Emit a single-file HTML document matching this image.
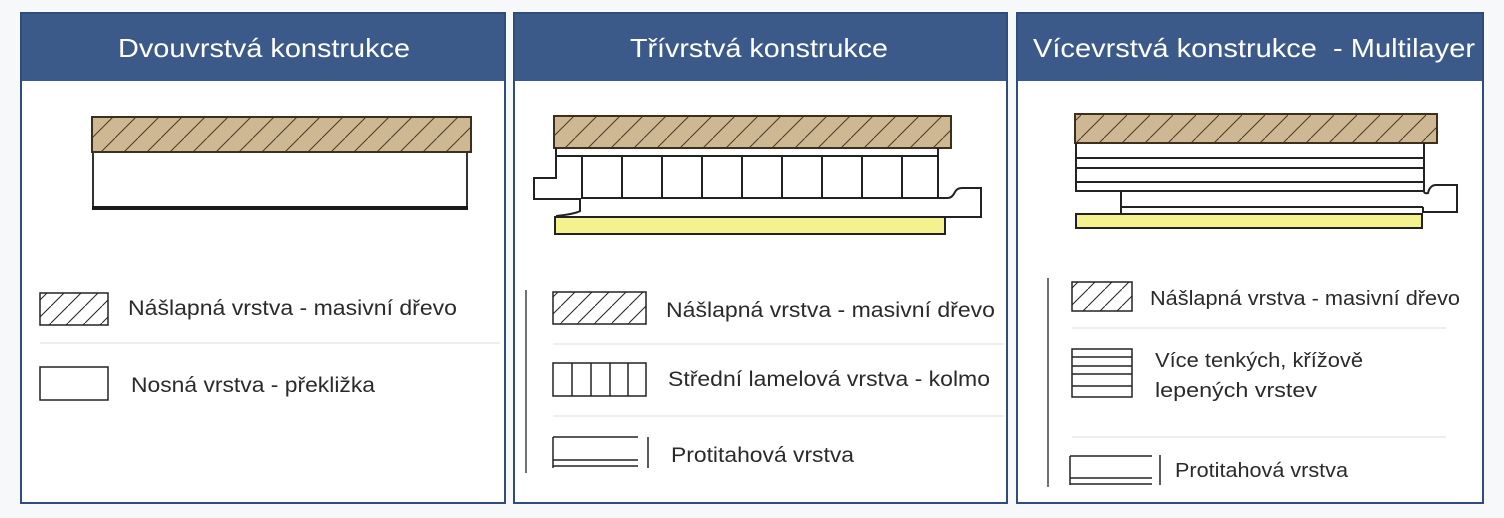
<!DOCTYPE html>
<html><head><meta charset="utf-8"><style>
html,body{margin:0;padding:0;background:#f7f8fa;}
svg{display:block;}
text{font-family:"Liberation Sans",Arial,sans-serif;}
</style></head><body>
<svg width="1504" height="518" viewBox="0 0 1504 518" xmlns="http://www.w3.org/2000/svg">
<defs>
<pattern id="hb" patternUnits="userSpaceOnUse" width="23" height="23">
<rect width="23" height="23" fill="#cdb893"/>
<line x1="-1" y1="24" x2="24" y2="-1" stroke="#4a3a22" stroke-width="1"/>
</pattern>
<pattern id="hl" patternUnits="userSpaceOnUse" width="17" height="17">
<rect width="17" height="17" fill="#fff"/>
<line x1="-1" y1="18" x2="18" y2="-1" stroke="#222" stroke-width="1"/>
</pattern>
</defs>
<rect width="1504" height="518" fill="#f7f8fa"/>

<g stroke="#2f4c7c" stroke-width="2" fill="#fff">
<rect x="21" y="13" width="484" height="490"/>
<rect x="514" y="13" width="493" height="490"/>
<rect x="1017" y="13" width="466" height="490"/>
</g>
<g fill="#3c5a89">
<rect x="22" y="14" width="482" height="67"/>
<rect x="515" y="14" width="491" height="67"/>
<rect x="1018" y="14" width="464" height="67"/>
</g>
<g fill="#fff" font-size="26">
<text x="264" y="57" text-anchor="middle" textLength="292" lengthAdjust="spacingAndGlyphs">Dvouvrstvá konstrukce</text>
<text x="759" y="57" text-anchor="middle" textLength="258" lengthAdjust="spacingAndGlyphs">Třívrstvá konstrukce</text>
<text x="1254" y="57" text-anchor="middle" textLength="442" lengthAdjust="spacingAndGlyphs" xml:space="preserve">Vícevrstvá konstrukce  - Multilayer</text>
</g>

<rect x="92" y="117" width="379" height="35" fill="url(#hb)" stroke="#3d2f1a" stroke-width="2"/>
<path d="M93,152 V208 M467,152 V208" stroke="#333" stroke-width="2" fill="none"/>
<rect x="92" y="206" width="376" height="4" fill="#1a1a1a"/>

<g fill="#2a2a2a" font-size="21">
<rect x="40" y="293" width="68" height="32" fill="url(#hl)" stroke="#222" stroke-width="1.5"/>
<text x="128" y="315" textLength="329" lengthAdjust="spacingAndGlyphs">Nášlapná vrstva - masivní dřevo</text>
<line x1="40" y1="343" x2="500" y2="343" stroke="#ddd" stroke-width="1"/>
<rect x="40" y="367" width="68" height="33" fill="#fff" stroke="#222" stroke-width="1.5"/>
<text x="131" y="392" textLength="244" lengthAdjust="spacingAndGlyphs">Nosná vrstva - překližka</text>
</g>

<rect x="554" y="116" width="397" height="32" fill="url(#hb)" stroke="#3d2f1a" stroke-width="2"/>
<g stroke="#222" stroke-width="2" fill="#fff">
<path d="M556,148 V178 H534 V199 H580 V211 Q575,214 556,216"/>
<line x1="556" y1="156" x2="938" y2="156"/>
<rect x="582" y="156" width="356" height="42"/>
<path d="M938,148 V198 H948 Q952,198 955,192 Q957,188 962,188 H981 V217 H946" fill="none"/>
</g>
<g stroke="#222" stroke-width="2">
<line x1="622" y1="156" x2="622" y2="198"/><line x1="662" y1="156" x2="662" y2="198"/>
<line x1="702" y1="156" x2="702" y2="198"/><line x1="742" y1="156" x2="742" y2="198"/>
<line x1="782" y1="156" x2="782" y2="198"/><line x1="822" y1="156" x2="822" y2="198"/>
<line x1="862" y1="156" x2="862" y2="198"/><line x1="902" y1="156" x2="902" y2="198"/>
</g>
<rect x="555" y="217" width="390" height="17" fill="#f4f28e" stroke="#222" stroke-width="2"/>

<g fill="#2a2a2a" font-size="21">
<line x1="526" y1="290" x2="526" y2="473" stroke="#444" stroke-width="1.5"/>
<rect x="553" y="292" width="93" height="32" fill="url(#hl)" stroke="#222" stroke-width="1.5"/>
<text x="666" y="317" textLength="329" lengthAdjust="spacingAndGlyphs">Nášlapná vrstva - masivní dřevo</text>
<line x1="553" y1="344" x2="1004" y2="344" stroke="#ddd"/>
<rect x="553" y="363" width="93" height="33" fill="#fff" stroke="#222" stroke-width="1.5"/>
<g stroke="#222" stroke-width="1.5"><line x1="572" y1="363" x2="572" y2="396"/><line x1="591" y1="363" x2="591" y2="396"/><line x1="610" y1="363" x2="610" y2="396"/><line x1="628" y1="363" x2="628" y2="396"/></g>
<text x="668" y="386" textLength="322" lengthAdjust="spacingAndGlyphs">Střední lamelová vrstva - kolmo</text>
<line x1="553" y1="416" x2="1004" y2="416" stroke="#ddd"/>
<g stroke="#222" stroke-width="1.5" fill="none">
<path d="M553,437 H638 M553,437 V468 M553,460 H638 M553,466 H638"/>
<line x1="648" y1="437" x2="648" y2="468"/>
</g>
<text x="671" y="462" textLength="183" lengthAdjust="spacingAndGlyphs">Protitahová vrstva</text>
</g>

<rect x="1075" y="114" width="362" height="29" fill="url(#hb)" stroke="#3d2f1a" stroke-width="2"/>
<g stroke="#222" stroke-width="2" fill="none">
<path d="M1076,143 V191 H1121 V213"/>
<path d="M1424,143 V191"/>
<line x1="1076" y1="158" x2="1424" y2="158"/>
<line x1="1076" y1="168" x2="1424" y2="168"/>
<line x1="1076" y1="182" x2="1424" y2="182"/>
<line x1="1076" y1="191" x2="1424" y2="191"/>
<line x1="1121" y1="207" x2="1423" y2="207"/>
<path d="M1424,191 Q1424,194 1428,193 Q1430,185 1436,185 H1457 V212 H1423 V207"/>
</g>
<rect x="1076" y="214" width="346" height="14" fill="#f4f28e" stroke="#222" stroke-width="2"/>

<g fill="#2a2a2a" font-size="20">
<line x1="1048" y1="278" x2="1048" y2="487" stroke="#444" stroke-width="1.5"/>
<rect x="1072" y="282" width="60" height="29" fill="url(#hl)" stroke="#222" stroke-width="1.5"/>
<text x="1150" y="305" textLength="310" lengthAdjust="spacingAndGlyphs">Nášlapná vrstva - masivní dřevo</text>
<line x1="1072" y1="328" x2="1446" y2="328" stroke="#ddd"/>
<g stroke="#222" stroke-width="1.5" fill="none">
<rect x="1072" y="349" width="60" height="48" fill="#fff"/>
<line x1="1072" y1="357" x2="1132" y2="357"/>
<line x1="1072" y1="366" x2="1132" y2="366"/>
<line x1="1072" y1="374" x2="1132" y2="374"/>
<line x1="1072" y1="386" x2="1132" y2="386"/>
</g>
<text x="1155" y="367" textLength="208" lengthAdjust="spacingAndGlyphs">Více tenkých, křížově</text>
<text x="1155" y="397" textLength="162" lengthAdjust="spacingAndGlyphs">lepených vrstev</text>
<line x1="1072" y1="437" x2="1446" y2="437" stroke="#ddd"/>
<g stroke="#222" stroke-width="1.5" fill="none">
<path d="M1070,456 H1152 M1070,456 V485 M1070,478 H1152 M1070,484 H1152"/>
<line x1="1160" y1="455" x2="1160" y2="485"/>
</g>
<text x="1175" y="477" textLength="173" lengthAdjust="spacingAndGlyphs">Protitahová vrstva</text>
</g>
</svg>
</body></html>
